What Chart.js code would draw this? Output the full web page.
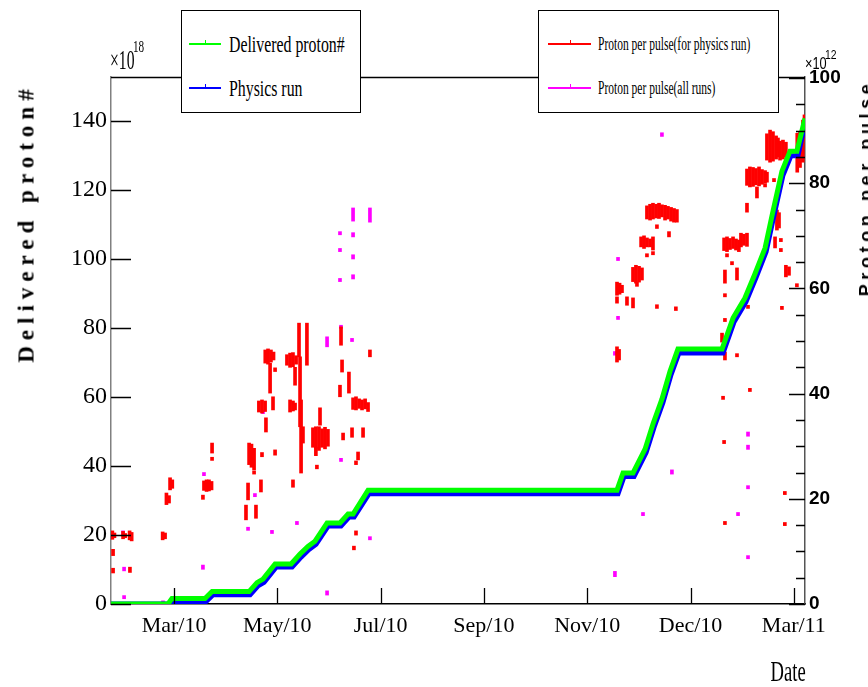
<!DOCTYPE html>
<html>
<head>
<meta charset="utf-8">
<title>Delivered proton# / Proton per pulse</title>
<script src="https://cdn.jsdelivr.net/npm/chart.js@4.4.0/dist/chart.umd.min.js"></script>
<style>
  body { margin: 0; background: #fff; }
  #wrap { position: relative; width: 868px; height: 687px; overflow: hidden; background: #fff; }
  #chart { position: absolute; left: 0; top: 0; }
  .box { position: absolute; background: #fff; border: 1.5px solid #000; box-sizing: border-box; }
  .mark { position: absolute; height: 2px; }
  .mark::after { content: ''; position: absolute; left: 50%; top: -3px; width: 1px; height: 4px; background: inherit; }
  .txt { position: absolute; white-space: nowrap; transform-origin: left center; color: #000; }
  .serif { font-family: 'Liberation Serif', 'DejaVu Serif', serif; }
  .sans { font-family: 'Liberation Sans Narrow', 'Liberation Sans', sans-serif; }
</style>
</head>
<body>
<div id="wrap">
  <canvas id="chart" width="868" height="687"></canvas>

  <!-- left legend -->
  <div class="box" style="left:181px;top:10px;width:180px;height:103px;">
    <div class="mark" style="left:7px;top:32px;width:32px;background:#00ff00;"></div>
    <div class="txt serif" style="left:47px;top:21px;font-size:24px;line-height:24px;transform:scaleX(0.66);">Delivered proton#</div>
    <div class="mark" style="left:7px;top:76px;width:32px;background:#0000ff;"></div>
    <div class="txt serif" style="left:47px;top:65px;font-size:24px;line-height:24px;transform:scaleX(0.66);">Physics run</div>
  </div>

  <!-- right legend -->
  <div class="box" style="left:538px;top:10px;width:241px;height:103px;">
    <div class="mark" style="left:9px;top:32px;width:43px;background:#ff0000;"></div>
    <div class="txt serif" style="left:59px;top:23px;font-size:18px;line-height:20px;transform:scaleX(0.64);">Proton per pulse(for physics run)</div>
    <div class="mark" style="left:9px;top:76px;width:43px;background:#ff00ff;"></div>
    <div class="txt serif" style="left:59px;top:67px;font-size:18px;line-height:20px;transform:scaleX(0.64);">Proton per pulse(all runs)</div>
  </div>

  <!-- exponents -->
  <div class="txt serif" style="left:110px;top:47px;font-size:27px;line-height:27px;transform:scaleX(0.58);">×10</div>
  <div class="txt serif" style="left:133px;top:39px;font-size:16px;line-height:16px;transform:scaleX(0.7);">18</div>
  <div class="txt sans" style="left:805px;top:55px;font-size:17px;line-height:17px;transform:scaleX(0.75);">×10</div>
  <div class="txt sans" style="left:825px;top:48px;font-size:13px;line-height:13px;transform:scaleX(0.8);">12</div>

  <!-- axis titles -->
  <div class="txt serif" style="left:26px;top:223px;font-size:23px;line-height:23px;font-weight:bold;letter-spacing:6px;transform-origin:center;transform:translate(-50%,-50%) rotate(-90deg);">Delivered proton#</div>
  <div class="txt" style="left:866px;top:188px;font-family:'Liberation Sans','DejaVu Sans',sans-serif;font-size:18px;line-height:18px;font-weight:bold;letter-spacing:4.6px;transform-origin:center;transform:translate(-50%,-50%) rotate(-90deg);">Proton per pulse</div>
  <div class="txt serif" style="right:62px;top:656px;font-size:30px;line-height:30px;transform-origin:right center;transform:scaleX(0.62);">Date</div>
</div>

<script>
// x axis: days, tick every 60 days (labels as printed on the original axis)
const tickDays = [0, 60, 120, 180, 240, 300, 360];
const tickLabels = ['Mar/10', 'May/10', 'Jul/10', 'Sep/10', 'Nov/10', 'Dec/10', 'Mar/11'];
const leftTicks = [0, 20, 40, 60, 80, 100, 120, 140];
const rightTicks = [0, 20, 40, 60, 80, 100];

// Delivered proton# (x10^18), cumulative
const deliveredDays = [-36.6, -3.5, -1.2, 18.0, 22.1, 43.6, 48.2, 51.7, 58.7, 68.0, 73.2, 77.8, 81.9, 88.9, 96.4, 101.1, 104.0, 112.7,
    257.3, 260.8, 266.6, 273.6, 278.2, 283.4, 288.1, 292.7, 318.3, 324.7, 331.6, 337.4, 343.3, 347.9, 353.1, 357.8, 361.8, 366.5];
const deliveredTotal = [0, 0, 1.6, 1.6, 3.6, 3.6, 6.2, 7.2, 11.6, 11.6, 14.5, 16.7, 18.2, 23.5, 23.5, 26.1, 26.1, 33.0,
    33.0, 38.0, 38.0, 44.9, 52.2, 59.4, 67.5, 73.9, 73.9, 82.9, 88.7, 95.7, 103.2, 113.9, 125.5, 131.3, 131.3, 140.8];

// Physics run (x10^18), cumulative
const physicsDays = [-36.6, -3.0, -0.6, 18.6, 22.7, 44.2, 48.8, 52.3, 59.3, 68.6, 73.8, 78.4, 82.5, 89.5, 97.0, 101.7, 104.6, 113.3,
    257.9, 261.4, 267.2, 274.2, 278.8, 284.0, 288.7, 293.3, 318.9, 325.3, 332.2, 338.0, 343.9, 348.5, 353.7, 358.4, 362.4, 366.5];
const physicsTotal = [0, 0, 0.7, 0.7, 2.7, 2.7, 5.3, 6.3, 10.7, 10.7, 13.6, 15.8, 17.3, 22.6, 22.6, 25.2, 25.2, 32.0,
    32.0, 37.0, 37.0, 43.9, 51.2, 58.4, 66.5, 72.8, 72.8, 81.8, 87.6, 94.6, 102.1, 112.7, 124.3, 130.0, 130.0, 139.3];

// Proton per pulse for physics run (x10^12): [day, low, high]
const pulsePhysics = [
    [-35.8, 12.3, 13.9], [-34.6, 12.6, 13.5], [-29.6, 12.4, 13.8], [-28.4, 12.6, 13.4], [-25.8, 12.2, 13.9], [-24.6, 12.0, 13.6],
    [-35.4, 9.2, 10.4], [-35.4, 5.9, 6.8], [-25.6, 6.0, 7.0],
    [-6.6, 12.2, 13.7], [-5.2, 12.4, 13.5], [-4.4, 18.9, 21.1], [-2.9, 19.2, 20.6], [-2.3, 21.7, 24.0], [-1.0, 22.0, 23.6],
    [16.8, 19.9, 20.7], [17.4, 21.6, 23.4], [18.9, 21.4, 23.6], [20.3, 21.5, 23.6], [21.8, 21.7, 23.3],
    [22.1, 28.7, 30.6], [22.1, 27.3, 27.9],
    [41.8, 16.0, 18.8], [43.0, 19.8, 23.0], [43.6, 26.5, 30.6], [45.0, 26.0, 30.4], [46.5, 25.5, 29.6], [46.5, 24.7, 25.3],
    [47.6, 16.3, 18.8], [50.5, 21.3, 23.6], [51.1, 28.0, 28.8],
    [49.3, 36.5, 38.6], [51.1, 36.3, 38.8], [52.9, 36.6, 38.6], [53.4, 32.7, 35.4],
    [53.0, 45.8, 48.3], [54.6, 45.6, 48.5], [56.3, 46.0, 48.3], [57.8, 46.4, 47.9],
    [55.8, 40.1, 45.8], [57.5, 36.9, 39.4], [58.7, 28.3, 29.3], [58.7, 44.2, 44.9],
    [67.4, 36.5, 38.8], [69.1, 36.7, 38.6], [70.3, 36.9, 38.2],
    [65.6, 45.4, 47.4], [67.4, 45.0, 47.7], [69.1, 45.1, 47.8], [70.9, 45.6, 47.2],
    [70.3, 41.6, 45.0], [69.1, 22.2, 23.6],
    [72.6, 47.0, 53.4], [73.2, 33.7, 47.0], [73.8, 24.9, 38.8], [74.9, 30.6, 33.7], [77.2, 45.4, 53.4],
    [80.7, 29.8, 33.5], [82.4, 29.6, 33.7], [84.2, 29.2, 33.7], [86.0, 29.8, 33.3], [87.7, 29.5, 33.6], [89.4, 30.0, 33.2],
    [82.4, 28.2, 29.8], [84.8, 34.0, 37.3], [83.0, 25.7, 26.4],
    [97.0, 49.2, 52.7], [97.6, 44.1, 46.4], [96.4, 39.4, 41.6], [98.2, 31.2, 32.5], [101.6, 40.1, 44.1], [103.4, 31.7, 33.5],
    [104.0, 37.0, 39.2], [105.7, 36.9, 39.4], [107.5, 37.2, 39.0], [109.2, 36.9, 38.8], [111.0, 37.1, 39.0], [112.7, 36.6, 38.3],
    [109.8, 31.7, 33.5], [106.9, 27.4, 28.9], [105.7, 26.5, 27.2], [113.8, 47.0, 48.3], [105.7, 13.1, 13.9], [104.5, 10.3, 11.0],
    // end of year
    [257.3, 58.7, 61.2], [258.8, 58.9, 61.0], [260.2, 59.2, 60.6], [257.3, 57.2, 58.4], [263.1, 56.8, 58.4], [266.6, 56.3, 58.2],
    [257.3, 46.0, 48.9], [258.5, 46.4, 48.4],
    [266.6, 61.3, 64.0], [268.3, 61.0, 64.4], [270.1, 61.2, 64.2], [271.8, 61.6, 63.9], [268.9, 60.4, 61.2],
    [271.3, 67.9, 69.8], [273.0, 67.6, 70.0], [274.7, 67.9, 69.6], [276.5, 67.9, 69.4], [278.2, 67.3, 69.8],
    [274.7, 66.0, 66.6], [278.2, 66.4, 67.0],
    [274.7, 73.2, 75.7], [276.5, 73.0, 76.0], [278.2, 73.2, 76.2], [280.0, 73.4, 76.0], [281.7, 73.3, 76.2], [283.4, 73.6, 75.9],
    [285.2, 73.0, 75.8], [286.9, 73.2, 75.6], [288.7, 72.8, 75.4], [290.4, 72.6, 75.2], [292.1, 72.6, 75.0],
    [280.5, 71.4, 72.1], [287.5, 69.8, 70.8], [280.5, 56.2, 56.9], [291.5, 55.8, 56.5],
    [320.0, 61.0, 63.5], [319.5, 67.2, 69.6], [321.2, 67.0, 69.8], [322.9, 67.4, 69.5], [324.7, 67.6, 69.8], [326.4, 67.3, 69.4], [328.1, 67.0, 69.2],
    [327.0, 61.6, 63.9], [329.3, 67.9, 70.5], [331.0, 68.2, 70.3], [332.8, 68.0, 70.5],
    [321.2, 66.0, 66.6], [324.1, 64.5, 65.1], [332.8, 74.5, 76.2],
    [332.8, 79.6, 82.7], [334.5, 79.3, 83.1], [336.3, 79.4, 83.0], [338.0, 79.7, 82.8], [339.8, 79.5, 83.1], [341.5, 79.8, 82.6],
    [343.3, 80.0, 82.4], [344.4, 80.2, 82.1], [338.6, 77.2, 79.3], [343.3, 79.3, 79.9], [348.5, 80.3, 80.9],
    [344.4, 84.4, 89.4], [346.2, 84.0, 90.1], [347.9, 84.2, 89.8], [349.7, 84.6, 89.0], [350.8, 85.0, 88.6],
    [352.0, 84.4, 88.0], [353.7, 84.6, 88.2], [355.4, 85.0, 87.8],
    [350.2, 71.1, 74.9], [351.4, 71.5, 74.4], [349.1, 67.7, 69.8], [352.5, 67.0, 67.6], [352.5, 68.9, 69.5],
    [355.4, 62.2, 64.4], [357.2, 62.5, 64.1], [361.8, 60.3, 60.9], [353.1, 56.0, 56.6],
    [362.0, 82.1, 89.5], [363.6, 83.0, 89.8], [365.2, 84.0, 90.5], [365.3, 88.2, 92.0], [366.2, 88.8, 93.0],
    [320.0, 58.4, 59.0], [333.4, 56.2, 56.8], [318.3, 49.8, 51.5], [320.0, 53.7, 54.3], [320.0, 46.4, 47.9],
    [327.0, 47.0, 47.6], [334.5, 40.4, 41.0], [318.9, 38.9, 39.5], [319.5, 30.5, 31.1],
    [354.8, 20.8, 21.4], [320.0, 15.1, 15.7], [354.8, 14.9, 15.5]
];

// Proton per pulse for all runs (x10^12): [day, low, high]
const pulseAll = [
    [-29.0, 6.3, 7.0], [-29.0, 1.0, 1.6], [-29.6, 13.2, 13.9], [-6.4, 0.1, 0.6], [16.8, 6.6, 7.4], [17.4, 24.4, 25.0],
    [43.0, 14.0, 14.6], [47.0, 20.4, 21.0], [56.9, 13.4, 14.0], [71.4, 15.1, 15.7], [51.7, 36.2, 36.8],
    [88.9, 48.9, 50.8], [88.9, 1.7, 2.5], [97.0, 52.4, 53.0], [96.4, 61.3, 61.9], [96.4, 67.0, 67.6], [96.4, 70.2, 70.8],
    [97.0, 27.1, 27.7], [103.4, 49.9, 50.5], [104.0, 72.8, 75.3], [104.0, 69.8, 70.6], [104.0, 65.6, 66.4], [104.0, 61.8, 62.6],
    [113.8, 72.6, 75.3], [113.8, 12.2, 12.8],
    [283.4, 88.9, 89.6], [257.9, 65.3, 65.9], [257.9, 54.1, 54.7], [256.1, 47.3, 48.0], [327.0, 67.6, 68.2],
    [289.2, 24.7, 25.5], [272.4, 16.8, 17.4], [256.1, 5.2, 6.2],
    [333.4, 31.9, 32.7], [333.4, 29.4, 30.2], [333.4, 21.9, 22.5], [327.6, 16.8, 17.4], [333.4, 8.6, 9.2]
];

function toPoints(days, values) {
    return days.map((d, i) => ({ x: d, y: values[i] }));
}

function toRanges(list) {
    return list.map(r => ({ x: r[0], y: [r[1], r[2]] }));
}

// ROOT style inward ticks and the top frame line
const rootFrame = {
    id: 'rootFrame',
    afterDraw(chart) {
        const { ctx, chartArea: a, scales } = chart;
        ctx.save();
        ctx.strokeStyle = '#000';
        ctx.lineWidth = 1.3;
        ctx.beginPath();
        scales.x.ticks.forEach(t => {
            const px = Math.round(scales.x.getPixelForValue(t.value)) + 0.5;
            ctx.moveTo(px, a.bottom);
            ctx.lineTo(px, a.bottom - 16);
        });
        scales.y.ticks.forEach(t => {
            const py = Math.round(scales.y.getPixelForValue(t.value)) + 0.5;
            ctx.moveTo(a.left, py);
            ctx.lineTo(a.left + 20, py);
        });
        for (let v = 0; v <= scales.y2.max; v += 5) {
            const py = Math.round(scales.y2.getPixelForValue(v)) + 0.5;
            ctx.moveTo(a.right, py);
            ctx.lineTo(a.right - (v % 20 === 0 ? 16 : 9), py);
        }
        ctx.moveTo(a.left, a.top + 0.5);
        ctx.lineTo(a.right, a.top + 0.5);
        ctx.stroke();
        ctx.restore();
    }
};

document.addEventListener('DOMContentLoaded', function () {
    const ctx = document.getElementById('chart').getContext('2d');

    new Chart(ctx, {
        type: 'bar',
        data: {
            datasets: [{
                type: 'line',
                label: 'Delivered proton#',
                data: toPoints(deliveredDays, deliveredTotal),
                yAxisID: 'y',
                borderColor: '#00ff00',
                borderWidth: 5,
                pointRadius: 0,
                fill: false,
                tension: 0
            }, {
                type: 'line',
                label: 'Physics run',
                data: toPoints(physicsDays, physicsTotal),
                yAxisID: 'y',
                borderColor: '#0000ff',
                borderWidth: 5,
                pointRadius: 0,
                fill: false,
                tension: 0
            }, {
                label: 'Proton per pulse(for physics run)',
                data: toRanges(pulsePhysics),
                yAxisID: 'y2',
                backgroundColor: '#ff0000',
                borderWidth: 0,
                barThickness: 3,
                grouped: false
            }, {
                label: 'Proton per pulse(all runs)',
                data: toRanges(pulseAll),
                yAxisID: 'y2',
                backgroundColor: '#ff00ff',
                borderWidth: 0,
                barThickness: 3,
                grouped: false
            }]
        },
        options: {
            responsive: false,
            animation: false,
            devicePixelRatio: 1,
            layout: { padding: { top: 77, left: 0, right: 0, bottom: 0 } },
            plugins: {
                legend: { display: false },
                tooltip: { enabled: false }
            },
            scales: {
                x: {
                    type: 'linear',
                    min: -36.6,
                    max: 366.5,
                    offset: false,
                    grid: { drawOnChartArea: false, drawTicks: false, offset: false },
                    border: { display: true, color: '#000', width: 1.5 },
                    afterBuildTicks(scale) {
                        scale.ticks = tickDays.map(v => ({ value: v }));
                    },
                    afterFit(scale) { scale.height = 83; },
                    ticks: {
                        autoSkip: false,
                        maxRotation: 0,
                        padding: 9,
                        color: '#000',
                        font: { family: "'Liberation Serif', serif", size: 22 },
                        callback: v => tickLabels[tickDays.indexOf(v)]
                    }
                },
                y: {
                    position: 'left',
                    min: 0,
                    max: 152.8,
                    grid: { drawOnChartArea: false, drawTicks: false },
                    border: { display: true, color: '#808080', width: 1.5 },
                    afterBuildTicks(scale) {
                        scale.ticks = leftTicks.map(v => ({ value: v }));
                    },
                    afterFit(scale) { scale.width = 111; },
                    ticks: {
                        padding: 4,
                        color: '#000',
                        font: { family: "'Liberation Serif', serif", size: 24 }
                    }
                },
                y2: {
                    position: 'right',
                    min: 0,
                    max: 100.2,
                    grid: { drawOnChartArea: false, drawTicks: false },
                    border: { display: true, color: '#555', width: 1.5 },
                    afterBuildTicks(scale) {
                        scale.ticks = rightTicks.map(v => ({ value: v }));
                    },
                    afterFit(scale) { scale.width = 63; },
                    ticks: {
                        padding: 4,
                        color: '#000',
                        font: { family: "'Liberation Sans Narrow', 'Liberation Sans', sans-serif", size: 19, weight: 'bold' }
                    }
                }
            }
        },
        plugins: [rootFrame]
    });
});
</script>
</body>
</html>
